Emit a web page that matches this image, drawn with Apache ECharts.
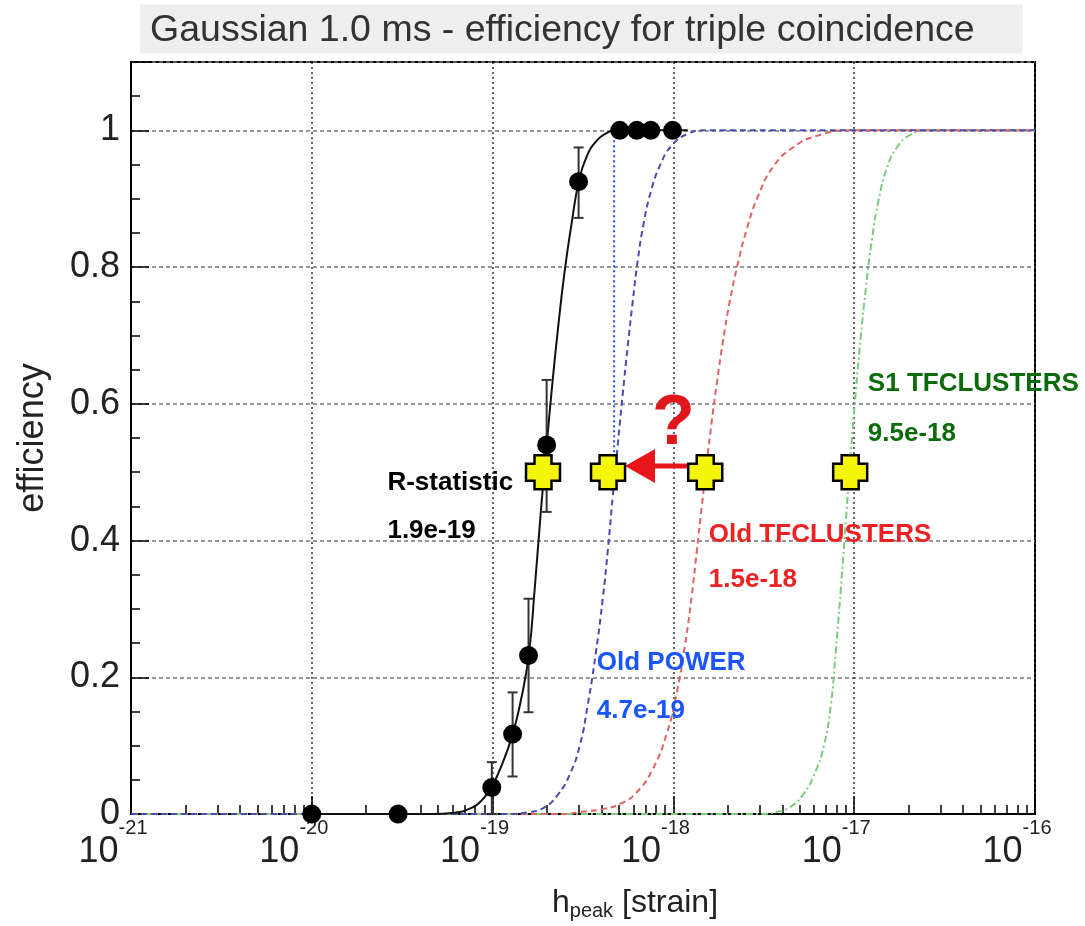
<!DOCTYPE html>
<html><head><meta charset="utf-8">
<script src="https://cdn.jsdelivr.net/npm/echarts@6/dist/echarts.min.js"></script>
<style>html,body{margin:0;padding:0;background:#fff}#c{width:1085px;height:926px}</style>
</head><body><div id="c"></div>
<script>
// ---------- data ----------
const titleText = 'Gaussian 1.0 ms - efficiency for triple coincidence';
const yAxisName = 'efficiency';
const xDecadeMin = -21, xDecadeMax = -16;

// R-statistic measured efficiencies (h_peak, efficiency, error band)
const rstatH   = [1.0e-20, 3.0e-20, 9.9e-20, 1.29e-19, 1.58e-19, 1.99e-19, 2.99e-19, 5.05e-19, 6.27e-19, 7.5e-19, 9.9e-19];
const rstatEff = [0, 0, 0.039, 0.117, 0.232, 0.54, 0.925, 1, 1, 1, 1];
const errH     = [9.9e-20, 1.29e-19, 1.58e-19, 1.99e-19, 2.99e-19];
const errLow   = [0.0, 0.055, 0.149, 0.442, 0.872];
const errHigh  = [0.076, 0.178, 0.315, 0.635, 0.975];

// R-statistic fit curve
const fitH   = [1.0e-20, 4.5e-20, 6.17e-20, 7.47e-20, 8.70e-20, 9.89e-20, 1.137e-19, 1.291e-19, 1.430e-19, 1.584e-19, 1.710e-19, 1.845e-19, 1.992e-19, 2.150e-19, 2.321e-19, 2.506e-19, 2.740e-19, 2.996e-19, 3.317e-19, 3.767e-19, 4.279e-19, 4.740e-19, 1.2e-18];
const fitEff = [0, 0, 0.002, 0.008, 0.02, 0.04, 0.075, 0.117, 0.165, 0.232, 0.33, 0.44, 0.54, 0.635, 0.72, 0.795, 0.865, 0.925, 0.962, 0.985, 0.996, 1.0, 1.0];

// Old POWER
const powerH   = [1e-21, 1.1e-19, 1.604e-19, 1.942e-19, 2.292e-19, 2.671e-19, 3.034e-19, 3.360e-19, 3.720e-19, 4.067e-19, 4.335e-19, 4.619e-19, 4.923e-19, 5.248e-19, 5.593e-19, 5.960e-19, 6.353e-19, 6.857e-19, 7.497e-19, 8.41e-19, 9.80e-19, 1.201e-18, 1.492e-18, 1e-16];
const powerEff = [0, 0, 0.003, 0.01, 0.028, 0.058, 0.10, 0.16, 0.235, 0.315, 0.385, 0.465, 0.54, 0.615, 0.685, 0.75, 0.81, 0.865, 0.91, 0.948, 0.978, 0.995, 1.0, 1.0];

// Old TFCLUSTERS
const tfcH   = [1e-21, 2.4e-19, 3.034e-19, 4.172e-19, 5.181e-19, 6.273e-19, 7.691e-19, 9.193e-19, 1.044e-18, 1.156e-18, 1.264e-18, 1.347e-18, 1.436e-18, 1.530e-18, 1.631e-18, 1.738e-18, 1.876e-18, 2.051e-18, 2.272e-18, 2.548e-18, 2.930e-18, 3.549e-18, 4.578e-18, 6.218e-18, 9.467e-18, 1e-16];
const tfcEff = [0, 0, 0.003, 0.008, 0.016, 0.032, 0.066, 0.118, 0.178, 0.245, 0.32, 0.385, 0.45, 0.515, 0.575, 0.63, 0.69, 0.75, 0.805, 0.856, 0.903, 0.946, 0.975, 0.992, 1.0, 1.0];

// S1 TFCLUSTERS
const s1H   = [1e-21, 3.0e-18, 3.734e-18, 4.406e-18, 5.201e-18, 6.061e-18, 6.797e-18, 7.431e-18, 7.917e-18, 8.440e-18, 8.998e-18, 9.587e-18, 1.022e-17, 1.089e-17, 1.161e-17, 1.253e-17, 1.370e-17, 1.517e-17, 1.722e-17, 2.033e-17, 2.623e-17, 1e-16];
const s1Eff = [0, 0, 0.003, 0.01, 0.028, 0.06, 0.10, 0.16, 0.24, 0.33, 0.43, 0.53, 0.62, 0.70, 0.77, 0.84, 0.90, 0.945, 0.975, 0.993, 1.0, 1.0];

// 50% thresholds (yellow crosses)
const crossH   = [1.9e-19, 4.35e-19, 1.5e-18, 9.5e-18];
const crossEff = [0.5, 0.5, 0.5, 0.5];

// Old POWER threshold marker line
const powerMarkH = [4.7e-19, 4.7e-19];
const powerMarkEff = [1.0, 0.5];

// arrow (from Old TFCLUSTERS toward the new point)
const arrowFromH = 1.31e-18, arrowToH = 5.4e-19, arrowEff = 0.509;

// annotations
const annText = ['R-statistic', '1.9e-19', 'Old TFCLUSTERS', '1.5e-18', 'Old POWER', '4.7e-19', 'S1 TFCLUSTERS', '9.5e-18', '?'];
const annH    = [2.62e-20, 2.62e-20, 1.57e-18, 1.57e-18, 3.77e-19, 3.77e-19, 1.19e-17, 1.19e-17, 1.0e-18];
const annEff  = [0.485, 0.415, 0.409, 0.342, 0.221, 0.151, 0.629, 0.556, 0.569];

// ---------- styles ----------
const FONT = 'Liberation Sans, Arial, Helvetica, sans-serif';
const annColor = ['#000', '#000', '#ee2222', '#ee2222', '#1a55ff', '#1a55ff', '#0b6b0b', '#0b6b0b', '#e0161d'];
const annSize  = [26, 26, 26, 26, 26, 26, 26, 26, 70];
const annAlign = ['left', 'left', 'left', 'left', 'left', 'left', 'left', 'left', 'center'];

const L = Math.log10;
const pairs = (xs, ys) => xs.map((x, i) => [L(x), ys[i]]);

const xMinor = [];
for (let d = xDecadeMin; d < xDecadeMax; d++) for (let k = 2; k <= 9; k++) xMinor.push(d + L(k));
const yMinor = [];
for (let i = 1; i <= 22; i++) yMinor.push(+(i * 0.05).toFixed(2));

const plusPath = 'path://M1,0 H3 V1 H4 V3 H3 V4 H1 V3 H0 V1 H1 Z';
const curveStyle = {showSymbol: false, symbol: 'none', smooth: 0.5};

const chart = echarts.init(document.getElementById('c'), null, {renderer: 'canvas'});
chart.setOption({
  animation: false,
  backgroundColor: '#fff',
  title: {
    text: titleText, left: 140, top: 5,
    backgroundColor: '#efefef', padding: [7, 48, 4, 10],
    textStyle: {fontSize: 37.5, fontWeight: 'normal', color: '#333', fontFamily: FONT, lineHeight: 37}
  },
  grid: {left: 131, right: 50, top: 62, bottom: 111, show: true, borderColor: '#000', borderWidth: 2, backgroundColor: '#fff'},
  xAxis: [{
    type: 'value', min: xDecadeMin, max: xDecadeMax, interval: 1,
    axisLine: {show: true, onZero: false, lineStyle: {color: '#000', width: 2}},
    axisTick: {show: true, inside: true, length: 18, lineStyle: {color: '#000', width: 1.5}},
    splitLine: {show: true, lineStyle: {color: '#333', type: [2, 3], width: 1.5}},
    axisLabel: {
      margin: 5, padding: [0, 36, 0, 0],
      formatter: v => '{s|' + v + '}\n{b|10}',
      rich: {
        b: {fontSize: 36, fontFamily: FONT, color: '#222', lineHeight: 30, width: 69, align: 'left'},
        s: {fontSize: 20, fontFamily: FONT, color: '#222', lineHeight: 18, width: 69, align: 'right'}
      }
    },
    name: '{h|h}{sub|peak}{n| [strain]}', nameLocation: 'middle', nameGap: 53,
    nameTextStyle: {
      padding: [0, 0, 0, 104],
      rich: {
        h: {fontSize: 32, fontFamily: FONT, color: '#222', lineHeight: 36},
        sub: {fontSize: 20, fontFamily: FONT, color: '#222', lineHeight: 20, padding: [26, 0, 0, 0], verticalAlign: 'bottom'},
        n: {fontSize: 32, fontFamily: FONT, color: '#222', lineHeight: 36}
      }
    }
  }, {
    type: 'value', min: xDecadeMin, max: xDecadeMax, position: 'bottom',
    axisLine: {show: false}, axisLabel: {show: false}, splitLine: {show: false},
    axisTick: {show: true, inside: true, length: 9, customValues: xMinor, lineStyle: {color: '#000', width: 1.5}}
  }],
  yAxis: [{
    type: 'value', min: 0, max: 1.1, interval: 0.2,
    axisLine: {show: true, onZero: false, lineStyle: {color: '#000', width: 2}},
    axisTick: {show: true, inside: true, length: 18, lineStyle: {color: '#000', width: 1.5}},
    splitLine: {show: true, lineStyle: {color: '#777', type: [4, 3], width: 1.5}},
    axisLabel: {
      margin: 11, fontSize: 36, fontFamily: FONT, color: '#222',
      formatter: v => (v > 1.0001 ? '' : String(+v.toFixed(1)))
    },
    name: yAxisName, nameLocation: 'middle', nameRotate: 90, nameGap: 80,
    nameTextStyle: {fontSize: 36, fontFamily: FONT, color: '#222'}
  }, {
    type: 'value', min: 0, max: 1.1, position: 'left',
    axisLine: {show: false}, axisLabel: {show: false}, splitLine: {show: false},
    axisTick: {show: true, inside: true, length: 9, customValues: yMinor, lineStyle: {color: '#000', width: 1.5}}
  }],
  series: [
    Object.assign({type: 'line', name: 'S1 TFCLUSTERS', data: pairs(s1H, s1Eff),
     lineStyle: {color: '#7ccc7c', width: 2, type: [7, 3, 2, 3]}, z: 3}, curveStyle),
    Object.assign({type: 'line', name: 'Old TFCLUSTERS', data: pairs(tfcH, tfcEff),
     lineStyle: {color: '#dd6464', width: 2, type: [6, 4]}, z: 3}, curveStyle),
    Object.assign({type: 'line', name: 'Old POWER', data: pairs(powerH, powerEff),
     lineStyle: {color: '#4a4ab0', width: 2, type: [6, 4]}, z: 3}, curveStyle),
    Object.assign({type: 'line', name: 'R-statistic fit', data: pairs(fitH, fitEff),
     lineStyle: {color: '#111', width: 2}, z: 4}, curveStyle),
    {type: 'line', name: 'power mark', data: pairs(powerMarkH, powerMarkEff), showSymbol: false, symbol: 'none',
     lineStyle: {color: '#1a4cff', width: 2, type: [2, 3]}, z: 4},
    {type: 'custom', name: 'errors', z: 5,
     data: errH.map((h, i) => [L(h), errLow[i], errHigh[i]]),
     renderItem: (params, api) => {
       const x = api.value(0);
       const a = api.coord([x, api.value(1)]), b = api.coord([x, api.value(2)]);
       const st = {stroke: '#333', lineWidth: 2};
       return {type: 'group', children: [
         {type: 'line', shape: {x1: a[0], y1: a[1], x2: b[0], y2: b[1]}, style: st},
         {type: 'line', shape: {x1: a[0] - 5, y1: a[1], x2: a[0] + 5, y2: a[1]}, style: st},
         {type: 'line', shape: {x1: b[0] - 5, y1: b[1], x2: b[0] + 5, y2: b[1]}, style: st}
       ]};
     }},
    {type: 'scatter', name: 'R-statistic', data: pairs(rstatH, rstatEff), symbol: 'circle', symbolSize: 19,
     itemStyle: {color: '#000', opacity: 1}, z: 6},
    {type: 'custom', name: 'arrow', z: 7, clip: false,
     data: [[L(arrowFromH), L(arrowToH), arrowEff]],
     renderItem: (params, api) => {
       const a = api.coord([api.value(0), api.value(2)]), b = api.coord([api.value(1), api.value(2)]);
       const hl = 30, hw = 17;
       return {type: 'group', children: [
         {type: 'line', shape: {x1: a[0], y1: a[1], x2: b[0] + hl - 2, y2: b[1]}, style: {stroke: '#e8161b', lineWidth: 5}},
         {type: 'polygon', shape: {points: [[b[0], b[1]], [b[0] + hl, b[1] - hw], [b[0] + hl, b[1] + hw]]}, style: {fill: '#e8161b'}}
       ]};
     }},
    {type: 'scatter', name: 'thresholds', data: pairs(crossH, crossEff), symbol: plusPath, symbolSize: 34,
     itemStyle: {color: '#f5f50a', borderColor: '#000', borderWidth: 2.5, opacity: 1}, z: 8},
    {type: 'custom', name: 'annotations', z: 9, clip: false,
     data: annH.map((h, i) => [L(h), annEff[i], i]),
     renderItem: (params, api) => {
       const i = api.value(2);
       const p = api.coord([api.value(0), api.value(1)]);
       return {type: 'text', x: p[0], y: p[1], style: {
         text: annText[i], fill: annColor[i], fontSize: annSize[i], fontWeight: 'bold', fontFamily: FONT,
         align: annAlign[i], verticalAlign: 'middle'}};
     }}
  ]
});
</script></body></html>
